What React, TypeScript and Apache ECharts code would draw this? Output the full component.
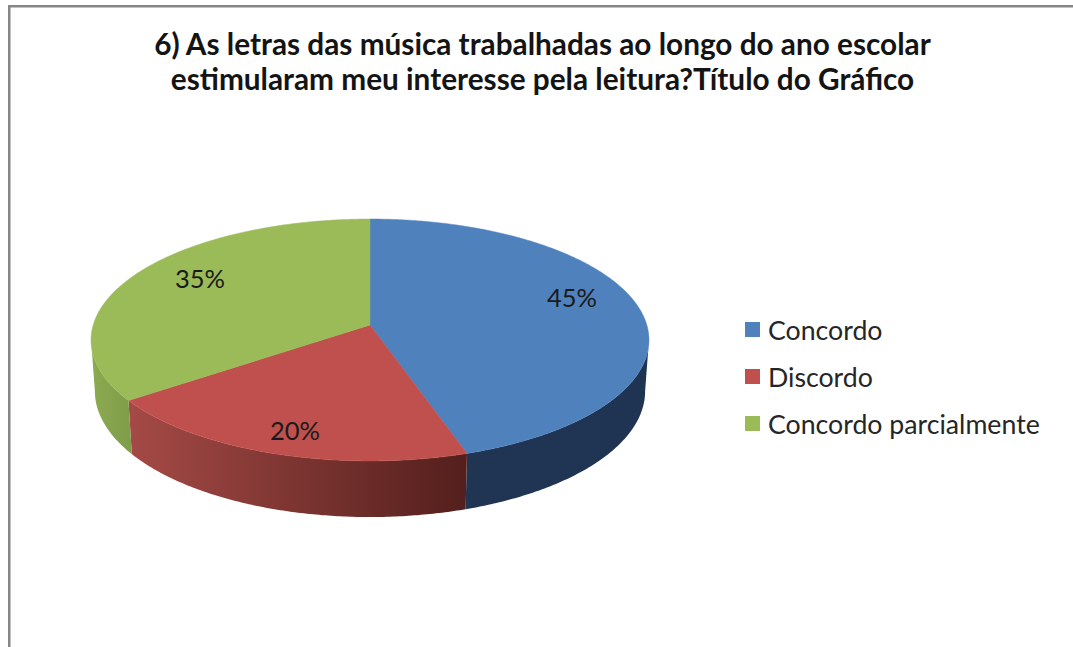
import React, { useEffect, useRef } from "react";
import * as echarts from "echarts";

const categories = ["Concordo", "Discordo", "Concordo parcialmente"];
const values = [45, 20, 35];
const titleLines = [
  "6) As letras das música trabalhadas ao longo do ano escolar",
  "estimularam meu interesse pela leitura?Título do Gráfico",
];

const topColors = ["#4f81bd", "#c0504d", "#9bbb59"];
const wallStops = [
  ["#1f3552", "#1f3452"],
  ["#a54a46", "#531f1c"],
  ["#8bab51", "#7f9c49"],
];
const labelOffsets = [
  [202, -28],
  [-75, 105],
  [-170, -47],
];

const K = 0.124;
const TOP = { x: 370, y: 325, a: 276.8, b: 119.1 };
const BOTTOM = { x: 370, y: 375.5, a: 273, b: 124 };
const FONT = "Lato";

function project(disc: typeof TOP, t: number) {
  const u = Math.sin(t);
  const v = -Math.cos(t);
  const w = 1 - K * v;
  return [disc.x + (disc.a * u) / w, disc.y + (disc.b * v) / w];
}

function arc(disc: typeof TOP, from: number, to: number) {
  const n = Math.max(2, Math.ceil(Math.abs(to - from) / 0.01));
  const pts: number[][] = [];
  for (let i = 0; i <= n; i++) pts.push(project(disc, from + ((to - from) * i) / n));
  return pts;
}

const total = values.reduce((s, v) => s + v, 0);
const TAU = Math.PI * 2;
const SIDE_START = TAU * (97.1 / 360);
const SIDE_END = TAU * (262.9 / 360);

function sliceRenderer(index: number) {
  const before = values.slice(0, index).reduce((s, v) => s + v, 0);
  return (_params: any, api: any) => {
    const value = api.value(0);
    const start = (before / total) * TAU;
    const end = ((before + value) / total) * TAU;
    const children: any[] = [];
    const from = Math.max(start, SIDE_START);
    const to = Math.min(end, SIDE_END);
    if (to > from) {
      const wallPts = [...arc(TOP, from, to), ...arc(BOTTOM, to, from)];
      children.push({
        type: "polygon",
        shape: { points: wallPts },
        style: {
          fill: new echarts.graphic.LinearGradient(0, 0, 1, 0, [
            { offset: 0, color: wallStops[index][0] },
            { offset: 1, color: wallStops[index][1] },
          ]),
        },
      });
    }
    children.push({
      type: "polygon",
      shape: { points: [[TOP.x, TOP.y], ...arc(TOP, start, end)] },
      style: { fill: topColors[index], stroke: topColors[index], lineWidth: 0.5 },
    });
    children.push({
      type: "text",
      z2: 10,
      x: TOP.x + labelOffsets[index][0],
      y: TOP.y + labelOffsets[index][1],
      style: {
        text: `${Math.round((value / total) * 100)}%`,
        fill: "#1a1a1a",
        font: `25.5px ${FONT}`,
        align: "center",
        verticalAlign: "middle",
      },
    });
    return { type: "group", children };
  };
}

export default function App() {
  const ref = useRef<HTMLDivElement>(null);
  useEffect(() => {
    document.body.style.margin = "0";
    const chart = echarts.init(ref.current!, null, { renderer: "svg" });
    chart.setOption({
      animation: false,
      backgroundColor: "#ffffff",
      title: {
        text: titleLines.join("\n"),
        left: 537.5,
        top: 21,
        textAlign: "center",
        textStyle: {
          fontFamily: FONT,
          fontWeight: "bold",
          fontSize: 29.75,
          lineHeight: 35,
          color: "#141414",
        },
      },
      legend: {
        orient: "vertical",
        left: 740,
        top: 311,
        itemWidth: 15,
        itemHeight: 15,
        itemGap: 20,
        icon: "rect",
        data: categories,
        selectedMode: false,
        textStyle: { fontFamily: FONT, fontSize: 26.7, color: "#262626", padding: [0, 0, 2, 3] },
      },
      graphic: [
        { type: "rect", shape: { x: 8, y: 5, width: 1065, height: 2.5 }, style: { fill: "#868686" } },
        { type: "rect", shape: { x: 8, y: 5, width: 2.5, height: 642 }, style: { fill: "#868686" } },
      ],
      series: categories.map((name, i) => ({
        type: "custom",
        name,
        coordinateSystem: "none",
        silent: true,
        itemStyle: { color: topColors[i] },
        data: [[values[i]]],
        renderItem: sliceRenderer(i),
      })),
    });
    return () => chart.dispose();
  }, []);
  return <div ref={ref} style={{ width: 1073, height: 647 }} />;
}
